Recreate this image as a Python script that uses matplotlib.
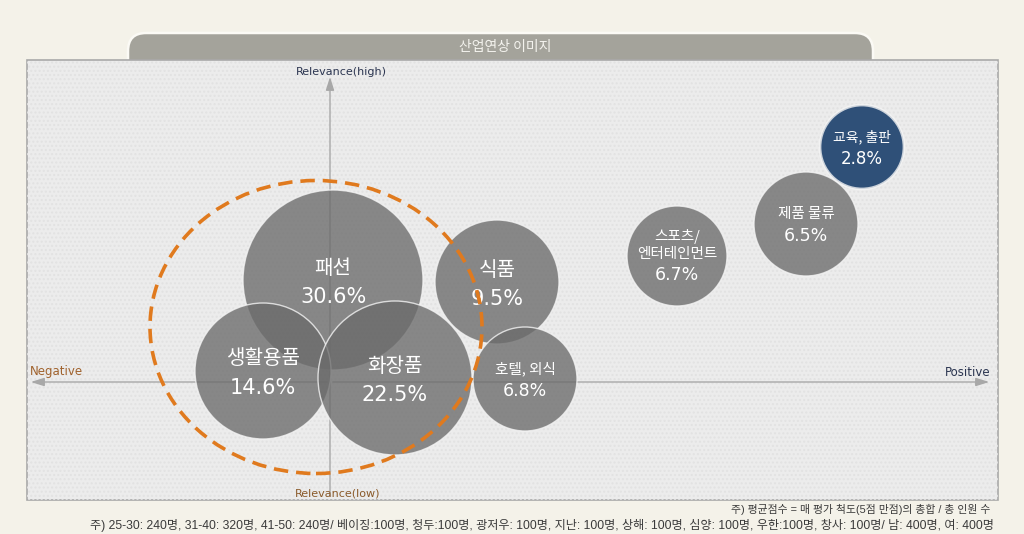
import matplotlib
matplotlib.use("Agg")
import matplotlib.pyplot as plt
from matplotlib.patches import Circle, Ellipse, Rectangle, FancyBboxPatch

# ---------------- data ----------------
categories = ["패션", "생활용품", "화장품", "식품", "호텔, 외식",
              "스포츠/\n엔터테인먼트", "제품 물류", "교육, 출판"]
shares = [30.6, 14.6, 22.5, 9.5, 6.8, 6.7, 6.5, 2.8]
# position on the relevance / sentiment map (origin = axis crossing)
x_sentiment = [3, -67, 65, 167, 195, 347, 476, 532]
y_relevance = [102, 11, 4, 100, 3, 126, 158, 235]
bubble_radius = [90, 68, 77, 62, 52, 50, 52, 42]
title = "산업연상 이미지"
note1 = "주) 평균점수 = 매 평가 척도(5점 만점)의 총합 / 총 인원 수"
note2 = ("주) 25-30: 240명, 31-40: 320명, 41-50: 240명/ 베이징:100명, 청두:100명, "
         "광저우: 100명, 지난: 100명, 상해: 100명, 심양: 100명, 우한:100명, "
         "창사: 100명/ 남: 400명, 여: 400명")

plt.rcParams['font.family'] = ['Noto Sans CJK KR', 'DejaVu Sans']
LAT = ['Liberation Sans', 'Noto Sans CJK KR', 'DejaVu Sans']
WIDE = ['DejaVu Sans', 'Noto Sans CJK KR']

fig = plt.figure(figsize=(10.24, 5.34), dpi=100)
fig.patch.set_facecolor("#f4f2e9")
ax = fig.add_axes([0, 0, 1, 1])
OX, OY = 330, 382
ax.set_xlim(-OX, 1024 - OX)
ax.set_ylim(OY - 534, OY)
ax.set_aspect('equal')
ax.axis('off')

def P(px, py):
    return (px - OX, OY - py)

# tab header (bottom hidden behind the panel)
tab = FancyBboxPatch(P(128, 90), 873 - 128, 57,
                     boxstyle="round,pad=0,rounding_size=18",
                     facecolor="#a4a39b", edgecolor="#fbfaf5", lw=1.8, zorder=1)
ax.add_patch(tab)
ax.text(*P(505, 47), title, ha='center', va='center', fontsize=10,
        color="#f4f3ee", zorder=2)

# panel
ax.add_patch(Rectangle(P(27, 500), 998 - 27, 440, facecolor="#ececec",
                       edgecolor="#a9a9a9", lw=1.2, zorder=2))
ax.add_patch(Rectangle(P(27, 500), 998 - 27, 440, facecolor="none",
                       edgecolor="#e2e2e2", hatch="....", lw=0, zorder=2))

# axes lines with arrows
arrow_kw = dict(arrowstyle="-|>,head_length=0.8,head_width=0.25",
                color="#a8a8a8", lw=1.0)
ax.annotate("", xy=P(28, 382), xytext=P(330, 382), arrowprops=arrow_kw, zorder=3)
ax.annotate("", xy=P(992, 382), xytext=P(330, 382), arrowprops=arrow_kw, zorder=3)
ax.annotate("", xy=P(330, 74), xytext=P(330, 499), arrowprops=arrow_kw, zorder=3)

ax.text(*P(341, 72), "Relevance(high)", ha='center', va='center', fontsize=8,
        color="#2b3550", zorder=3, family=WIDE)
ax.text(*P(338, 494), "Relevance(low)", ha='center', va='center', fontsize=8,
        color="#8a5a2a", zorder=3, family=WIDE)
ax.text(*P(30, 372), "Negative", ha='left', va='center', fontsize=8.5,
        color="#a0622d", zorder=3, family=WIDE)
ax.text(*P(991, 372), "Positive", ha='right', va='center', fontsize=8.5,
        color="#2b3550", zorder=3, family=WIDE)

# bubbles
label_fs = [14.5, 14.5, 14.5, 14.5, 10.5, 10.5, 10.5, 10]
pct_fs = [15, 15, 15, 15, 12.5, 12.5, 12.5, 12]
for i, (cat, s, x, y, r) in enumerate(zip(categories, shares, x_sentiment,
                                          y_relevance, bubble_radius)):
    last = (i == len(categories) - 1)
    fc = "#2f5078" if last else "#6b6b6b"
    alpha = 1.0 if last else 0.78
    ax.add_patch(Circle((x, y), r, facecolor=fc, alpha=alpha, edgecolor="none",
                        zorder=4 + i * 0.01))
    ax.add_patch(Circle((x, y), r, facecolor="none", edgecolor="#f5f5f5",
                        lw=1.0 if not last else 2.0, alpha=0.8, zorder=4 + i * 0.01))
    nlines = cat.count("\n") + 1
    if nlines > 1:
        ly, py_ = y + 11, y - 19
    elif r >= 60:
        ly, py_ = y + 12, y - 17
    else:
        ly, py_ = y + 10, y - 12
    ax.text(x, ly, cat, ha='center', va='center', fontsize=label_fs[i],
            color="white", zorder=6, linespacing=1.2)
    ax.text(x, py_, f"{s}%", ha='center', va='center', fontsize=pct_fs[i],
            color="white", zorder=6, family=WIDE)

# dashed highlight ellipse
ex, ey = P(316, 327)
ax.add_patch(Ellipse((ex, ey), 332, 293, facecolor='none', edgecolor="#e07a1e",
                     lw=2.6, linestyle=(0, (4, 2.2)), zorder=7))

# notes
ax.text(*P(990, 509), note1, ha='right', va='center', fontsize=7.8,
        color="#3a3a3a", zorder=3, family=LAT)
ax.text(*P(994, 525), note2, ha='right', va='center', fontsize=8.7,
        color="#3a3a3a", zorder=3, family=LAT)

fig.savefig("out.png", dpi=100, facecolor=fig.get_facecolor())
